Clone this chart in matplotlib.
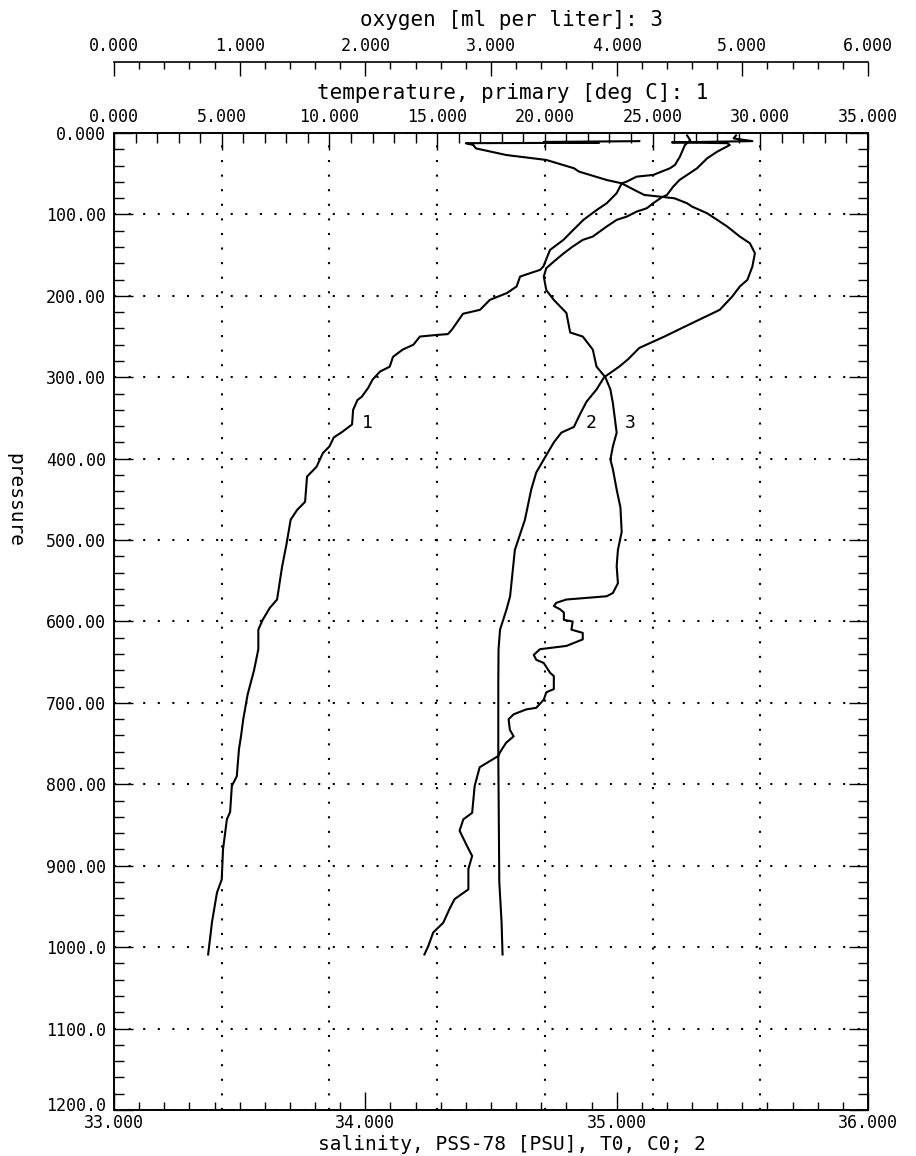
import matplotlib
matplotlib.use("Agg")
import matplotlib.pyplot as plt
from matplotlib.ticker import MultipleLocator, FixedLocator, FixedFormatter, FormatStrFormatter
from matplotlib.transforms import ScaledTranslation

# temperature profile (curve 1), deg C against pressure
temp_p = [3, 9, 14.8, 29, 39.2, 43.3, 51.5, 53.6, 59.7, 61.8,
          74, 86.3, 94.5, 106.7, 119, 131.3, 143.6, 164, 168.1, 176.3,
          188.5, 196.7, 204.9, 217.2, 222, 241, 247, 248, 250, 260,
          266, 275, 287, 293, 303, 313, 324, 328, 340, 358,
          367, 374, 385, 393, 410, 422, 453, 463, 475, 506,
          533, 573, 583, 598, 610, 634, 660, 690, 720, 740,
          757, 790, 802, 834, 843, 880, 917, 933, 969, 1009]
temp_c = [26.6, 26.75, 26.5, 26.27, 26.04, 25.81, 25.03, 24.26, 23.80, 23.57,
          23.33, 22.87, 22.41, 21.79, 21.32, 20.86, 20.24, 19.93, 19.78, 18.85,
          18.69, 18.23, 17.45, 16.99, 16.2, 15.7, 15.5, 15.0, 14.2, 13.9,
          13.4, 12.95, 12.8, 12.35, 12.0, 11.8, 11.5, 11.3, 11.1, 11.05,
          10.6, 10.2, 10.0, 9.7, 9.4, 8.96, 8.87, 8.5, 8.2, 8.0,
          7.8, 7.57, 7.24, 6.9, 6.7, 6.7, 6.5, 6.2, 6.0, 5.9,
          5.8, 5.7, 5.47, 5.39, 5.24, 5.06, 5.0, 4.78, 4.55, 4.37]

# salinity profile (curve 2), PSU
sal_p = [10, 11, 12, 12.5, 14.8, 18.9, 27, 33.1, 43.3, 47.4,
         57.7, 61.8, 69.9, 76.1, 78.1, 80.2, 86.3, 90.4, 98.6, 106.7,
         114.9, 127.2, 135.4, 147.6, 164, 180.4, 188.5, 200.8, 217.2, 235,
         250, 264, 278, 287, 300, 315, 330, 348, 361, 368,
         380, 401, 417, 438, 475, 512, 569, 585, 610, 634,
         675, 757, 765, 920, 969, 1009]
sal_s = [35.09, 34.71, 34.93, 34.40, 34.43, 34.44, 34.56, 34.72, 34.83, 34.85,
         34.96, 35.02, 35.07, 35.11, 35.17, 35.23, 35.28, 35.30, 35.36, 35.40,
         35.44, 35.49, 35.53, 35.55, 35.54, 35.52, 35.49, 35.46, 35.41, 35.29,
         35.19, 35.09, 35.045, 35.01, 34.95, 34.92, 34.88, 34.85, 34.83, 34.78,
         34.75, 34.71, 34.68, 34.66, 34.635, 34.595, 34.576, 34.562, 34.536, 34.53,
         34.529, 34.529, 34.529, 34.533, 34.542, 34.546]

# oxygen profile (curve 3), ml/l
oxy_p = [3, 6.6, 10, 11.5, 12.5, 14.8, 22.9, 31.1, 43.3, 53.6,
         57.7, 65.9, 72, 76.1, 78.9, 86.3, 92.4, 96.5, 102.7, 106.7,
         114.9, 127.2, 131.3, 139.5, 147.6, 157.9, 166, 176.3, 193, 205,
         221, 245, 250, 266, 287, 300, 315, 332, 356, 368,
         385, 401, 413, 438, 460, 490, 512, 532, 553, 565,
         569, 573, 577, 581, 585, 589, 598, 600, 610, 614,
         622, 630, 634, 641, 647, 651, 663, 667, 683, 687,
         696, 706, 708, 714, 720, 733, 741, 749, 761, 765,
         779, 802, 835, 843, 857, 876, 888, 904, 929, 941,
         953, 970, 982, 999, 1009]
oxy_o = [4.95, 4.93, 5.08, 4.44, 4.88, 4.90, 4.80, 4.72, 4.64, 4.54,
         4.50, 4.45, 4.42, 4.40, 4.36, 4.29, 4.24, 4.16, 4.08, 4.00,
         3.92, 3.81, 3.73, 3.65, 3.58, 3.50, 3.44, 3.42, 3.44, 3.50,
         3.60, 3.63, 3.73, 3.81, 3.84, 3.91, 3.95, 3.97, 3.99, 4.00,
         3.97, 3.95, 3.97, 4.00, 4.03, 4.04, 4.01, 4.00, 4.01, 3.97,
         3.92, 3.60, 3.52, 3.50, 3.55, 3.58, 3.58, 3.65, 3.64, 3.73,
         3.73, 3.60, 3.39, 3.34, 3.36, 3.42, 3.47, 3.50, 3.50, 3.44,
         3.42, 3.36, 3.28, 3.18, 3.14, 3.15, 3.18, 3.12, 3.07, 3.06,
         2.91, 2.87, 2.85, 2.78, 2.75, 2.81, 2.85, 2.82, 2.82, 2.71,
         2.67, 2.62, 2.54, 2.50, 2.47]

p_ticks = [0, 100, 200, 300, 400, 500, 600, 700, 800, 900, 1000, 1100, 1200]
p_labels = ["0.000", "100.00", "200.00", "300.00", "400.00", "500.00", "600.00",
            "700.00", "800.00", "900.00", "1000.0", "1100.0", "1200.0"]

plt.rcParams['font.family'] = ['DejaVu Sans Mono']

W, H = 916, 1156
fig = plt.figure(figsize=(W / 100, H / 100), dpi=100)
L, R, T, B = 114, 868, 133, 1110
ax = fig.add_axes([L / W, 1 - B / H, (R - L) / W, (B - T) / H])
axT = ax.twiny()
axO = ax.twiny()

ax.plot(sal_s, sal_p, color='black', lw=1.5)
axT.plot(temp_c, temp_p, color='black', lw=1.5)
axO.plot(oxy_o, oxy_p, color='black', lw=1.5)

ax.set_xlim(33, 36)
axT.set_xlim(0, 35)
axO.set_xlim(0, 6)
ax.set_ylim(1200, 0)

dots = (0, (1, 6))
fs = 12

# salinity, bottom
ax.xaxis.set_major_locator(MultipleLocator(1))
ax.xaxis.set_minor_locator(MultipleLocator(0.1))
ax.xaxis.set_major_formatter(FormatStrFormatter('%.3f'))
ax.tick_params(axis='x', which='both', direction='in', top=False, bottom=True, labelsize=fs, pad=3)
ax.tick_params(axis='x', which='major', length=13, width=1)
ax.tick_params(axis='x', which='minor', length=6, width=1)

# pressure, left
ax.yaxis.set_major_locator(FixedLocator(p_ticks))
ax.yaxis.set_major_formatter(FixedFormatter(p_labels))
ax.yaxis.set_minor_locator(MultipleLocator(20))
ax.tick_params(axis='y', which='both', direction='in', left=True, right=True, labelsize=fs, pad=6)
ax.tick_params(axis='y', which='major', length=14, width=1)
ax.tick_params(axis='y', which='minor', length=7, width=1)
ax.grid(axis='y', which='major', color='black', linestyle=dots, lw=1.5)

# lift the bottom pressure label a little so it clears 33.000
last = ax.yaxis.get_major_ticks(len(p_ticks))[-1].label1
last.set_transform(last.get_transform() + ScaledTranslation(0, 6 / 100, fig.dpi_scale_trans))

# temperature, top of frame
axT.xaxis.set_major_locator(MultipleLocator(5))
axT.xaxis.set_minor_locator(MultipleLocator(1))
axT.xaxis.set_major_formatter(FormatStrFormatter('%.3f'))
axT.tick_params(axis='x', which='both', direction='in', labelsize=fs, pad=5)
axT.tick_params(axis='x', which='major', length=12, width=1)
axT.tick_params(axis='x', which='minor', length=7, width=1)
axT.grid(axis='x', which='major', color='black', linestyle=dots, lw=1.5)

# oxygen, separate scale above
axO.spines['top'].set_position(('outward', 51))
for s in ['left', 'right', 'bottom']:
    axO.spines[s].set_visible(False)
axO.xaxis.set_major_locator(MultipleLocator(1))
axO.xaxis.set_minor_locator(MultipleLocator(0.2))
axO.xaxis.set_major_formatter(FormatStrFormatter('%.3f'))
axO.tick_params(axis='x', which='both', direction='in', labelsize=fs, pad=5.5)
axO.tick_params(axis='x', which='major', length=10, width=1)
axO.tick_params(axis='x', which='minor', length=5, width=1)

for a in [ax, axT, axO]:
    for s in a.spines.values():
        s.set_linewidth(1.2)

ax.text(34.90, 356, '2', fontsize=13, ha='center', va='center')
axT.text(11.76, 356, '1', fontsize=13, ha='center', va='center')
axO.text(4.11, 356, '3', fontsize=13, ha='center', va='center')

fig.text(512 / W, 1 - 20 / H, 'oxygen [ml per liter]: 3', ha='center', va='center', fontsize=15)
fig.text(513 / W, 1 - 93 / H, 'temperature, primary [deg C]: 1', ha='center', va='center', fontsize=15)
fig.text(512 / W, 1 - 1145 / H, 'salinity, PSS-78 [PSU], T0, C0; 2', ha='center', va='center', fontsize=14)
fig.text(15 / W, 1 - 500 / H, 'pressure', rotation=-90, ha='center', va='center', fontsize=14)

fig.savefig('out.png', dpi=100)
